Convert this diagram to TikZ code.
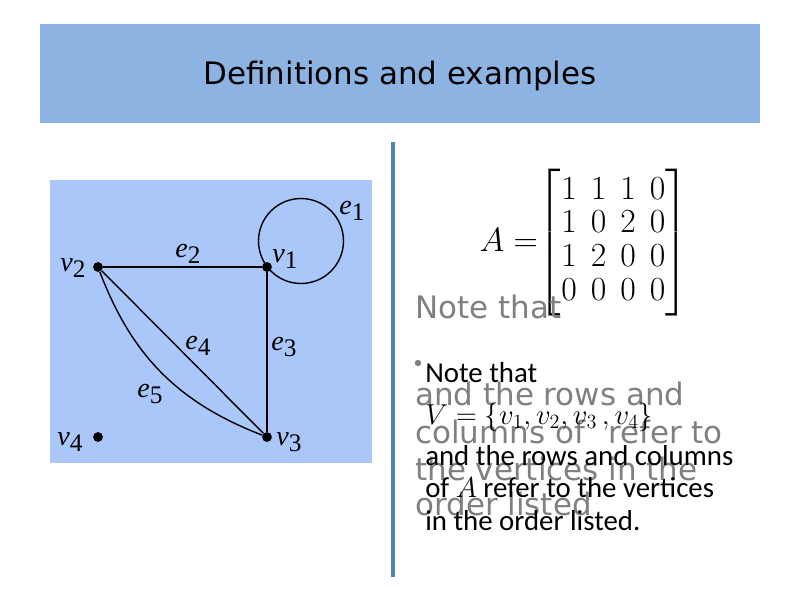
\RequirePackage{fix-cm}
\documentclass[tikz,border=0pt]{standalone}
\usepackage{amsmath}
\usepackage{fontspec}
\usetikzlibrary{positioning}
\newfontfamily\titlefont{DejaVu Sans}
\newfontfamily\bodyfont{Carlito}
\newfontfamily\graphfont{Liberation Serif}
\definecolor{titleblue}{RGB}{141,179,226}
\definecolor{graphblue}{RGB}{170,199,250}
\definecolor{ruleblue}{RGB}{79,129,189}
\definecolor{ghostgray}{RGB}{128,128,128}
\newcommand{\glab}[2]{{\graphfont\itshape #1}\raisebox{-4pt}{\graphfont\fontsize{18}{18}\selectfont #2}}

\begin{document}
\begin{tikzpicture}[x=0.025cm, y=-0.025cm,
  vtx/.style={circle, fill=black, inner sep=0pt, minimum size=7pt},
  edge/.style={draw=black, line width=1pt},
  glbl/.style={font=\graphfont\fontsize{20}{20}\selectfont, inner sep=0pt},
  ghost/.style={anchor=base west, inner sep=0pt, text=ghostgray, font=\titlefont\fontsize{22}{22}\selectfont},
  body/.style={anchor=base west, inner sep=0pt, font=\bodyfont\fontsize{20.5}{20.5}\selectfont},
]
  \useasboundingbox (0,0) rectangle (800,600);
  \fill[white] (0,0) rectangle (800,600);

  % Title bar
  \fill[titleblue] (40,24) rectangle (760,123);
  \node[font=\titlefont\fontsize{22}{22}\selectfont] (title) at (400,76) {Definitions and examples};

  % Graph panel
  \fill[graphblue] (50,180) rectangle (372,463);
  \node[vtx] (v1) at (267,267) {};
  \node[vtx] (v2) at (98,267) {};
  \node[vtx] (v3) at (267,437) {};
  \node[vtx] (v4) at (98,437) {};
  \draw[edge] (301,241) circle (42.5);
  \draw[edge] (v2) -- (v1);
  \draw[edge] (v1) -- (v3);
  \draw[edge] (v2) -- (v3);
  \draw[edge] (v2) to[bend right=24] (v3);
  \node[glbl] (lv1) at (285,259) {\glab{v}{1}};
  \node[glbl] (lv2) at (73,268) {\glab{v}{2}};
  \node[glbl] (lv3) at (289,442) {\glab{v}{3}};
  \node[glbl] (lv4) at (70,442) {\glab{v}{4}};
  \node[glbl] (le1) at (352,211) {\glab{e}{1}};
  \node[glbl] (le2) at (188,254) {\glab{e}{2}};
  \node[glbl] (le3) at (284,347) {\glab{e}{3}};
  \node[glbl] (le4) at (198,346) {\glab{e}{4}};
  \node[glbl] (le5) at (150,394) {\glab{e}{5}};

  % Divider
  \draw[ruleblue, line width=2.2pt] (393,142) -- (393,577);

  % Matrix
  \node[inner sep=0pt, anchor=east, font=\fontsize{24}{24}\selectfont] (mat) at (689,243)
    {$A=\mskip-\thickmuskip\begin{bmatrix}1&1&1&0\\1&0&2&0\\1&2&0&0\\0&0&0&0\end{bmatrix}$};

  % Ghost text underneath
  \node[ghost] (g1) at (415,318) {Note that};
  \fill[ghostgray] (418,363) circle (3.2);
  \node[ghost] (g2) at (415,405) {and the rows and};
  \node[ghost] (g3) at (415,443) {columns of\hspace{0.75em}refer to};
  \node[ghost] (g4) at (415,480) {the vertices in the};
  \node[ghost] (g5) at (415,515) {order listed};

  % Note text
  \node[body] (n1) at (425,382) {Note that};
  \node[body] (n2) at (425,424) {$V=\{v_1,v_2,v_3\,,v_4\}$};
  \node[body] (n3) at (425,465) {and the rows and columns};
  \node[body] (n4) at (425,497) {of $A$ refer to the vertices};
  \node[body] (n5) at (425,530) {in the order listed.};
\end{tikzpicture}
\end{document}
